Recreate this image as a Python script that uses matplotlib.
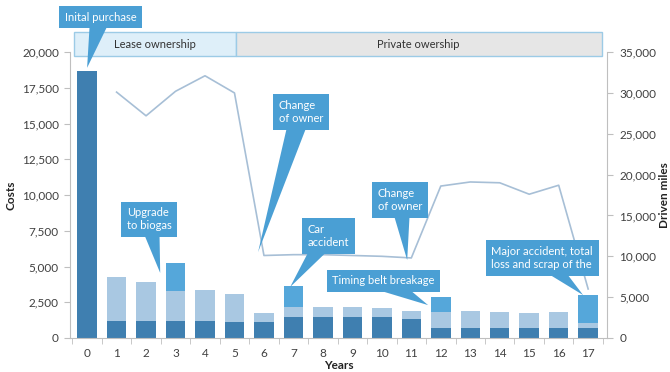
import matplotlib
matplotlib.use('Agg')
import matplotlib.pyplot as plt
import matplotlib.patches as mpatches
import matplotlib.transforms as mtransforms
import numpy as np

plt.rcParams['font.family'] = ['Lato', 'DejaVu Sans']

years = list(range(18))
# stacked cost parts (costs axis)
base_costs  = [18650, 1200, 1200, 1200, 1200, 1100, 1100, 1500, 1500, 1500, 1450, 1300, 700, 700, 700, 700, 700, 700]
running     = [0, 3050, 2700, 2100, 2130, 2000, 650, 650, 650, 650, 650, 600, 1150, 1200, 1100, 1050, 1100, 350]
extra       = [0, 0, 0, 1930, 0, 0, 0, 1500, 0, 0, 0, 0, 1000, 0, 0, 0, 0, 1930]
# driven miles (right axis), no value in year 0
miles = [np.nan, 30100, 27200, 30200, 32100, 30000, 10100, 10200, 10200, 10100, 10000, 9800,
         18600, 19100, 19000, 17600, 18700, 6000]

dark = '#3f7fb0'
light = '#a9c8e2'
mid = '#55a7da'
call = '#4a9fd4'
grey_txt = '#404040'

fig = plt.figure(figsize=(6.7, 3.72), dpi=100)
ax = fig.add_axes([0.1045, 0.0914, 0.8015, 0.7686])

x = np.arange(len(years))
w = 0.66
ax.bar(x, base_costs, w, color=dark, zorder=2)
ax.bar(x, running, w, bottom=base_costs, color=light, zorder=2)
ax.bar(x, extra, w, bottom=np.array(base_costs) + np.array(running), color=mid, zorder=2)

ax.set_xlim(-0.58, 17.64)
ax.set_ylim(0, 20000)
ax.set_yticks(np.arange(0, 20001, 2500))
ax.set_yticklabels(['{:,}'.format(v) for v in range(0, 20001, 2500)])
ax.set_xticks(x)
ax.set_xticklabels([str(y) for y in years])
ax.set_xticks(np.arange(-0.5, 18, 1), minor=True)
ax.tick_params(axis='x', which='major', length=0, pad=7, labelsize=8.5, labelcolor=grey_txt)
ax.tick_params(axis='x', which='minor', length=4, color='#bfbfbf')
ax.tick_params(axis='y', length=4, color='#bfbfbf', labelsize=8.5, labelcolor=grey_txt, pad=4)
for s in ['top', 'right']:
    ax.spines[s].set_visible(False)
for s in ['left', 'bottom']:
    ax.spines[s].set_color('#bfbfbf')
ax.set_ylabel('Costs', fontsize=8.5, fontweight='bold', color='#222222', labelpad=4)
ax.set_xlabel('Years', fontsize=8.5, fontweight='bold', color='#222222', labelpad=1)

ax2 = ax.twinx()
ax2.plot(x, miles, color='#a7bfd6', lw=1.2, zorder=3)
ax2.set_ylim(0, 35000)
ax2.set_yticks(np.arange(0, 35001, 5000))
ax2.set_yticklabels(['{:,}'.format(v) for v in range(0, 35001, 5000)])
ax2.tick_params(axis='y', length=4, color='#bfbfbf', labelsize=8.5, labelcolor=grey_txt, pad=5)
for s in ['top', 'left', 'bottom']:
    ax2.spines[s].set_visible(False)
ax2.spines['right'].set_color('#bfbfbf')
ax2.set_ylabel('Driven miles', fontsize=8.5, fontweight='bold', color='#222222')
ax2.yaxis.set_label_coords(1.097, 0.5)

# ownership bands above the plot
tr = mtransforms.blended_transform_factory(ax.transData, ax.transAxes)
ax2.add_patch(mpatches.Rectangle((-0.44, 0.985), 5.5, 0.085, transform=tr, clip_on=False,
                                 fc='#deeff9', ec='#9ccbe6', lw=1, zorder=4))
ax2.add_patch(mpatches.Rectangle((5.06, 0.985), 12.4, 0.085, transform=tr, clip_on=False,
                                 fc='#e6e6e6', ec='#9ccbe6', lw=1, zorder=4))
ax2.text(2.3, 1.027, 'Lease ownership', transform=tr, ha='center', va='center',
         fontsize=8, color='#333333', zorder=5)
ax2.text(11.25, 1.027, 'Private owership', transform=tr, ha='center', va='center',
         fontsize=8, color='#333333', zorder=5)

# callouts: (text, tip, box centre) in costs-axis coordinates
callouts = [
    ('Inital purchase', (0.0, 18900), (0.45, 22450)),
    ('Change\nof owner', (5.8, 6000), (7.26, 15800)),
    ('Upgrade\nto biogas', (2.48, 4550), (2.1, 8300)),
    ('Car\naccident', (6.89, 3570), (8.18, 7130)),
    ('Timing belt breakage', (11.57, 2300), (10.05, 3990)),
    ('Change\nof owner', (10.86, 5450), (10.62, 9650)),
    ('Major accident, total\nloss and scrap of the', (16.83, 3000), (15.44, 5590)),
]
for txt, tip, pos in callouts:
    ax2.annotate(txt, xy=tip, xycoords=ax.transData, xytext=pos, textcoords=ax.transData,
                 ha='center', va='center', multialignment='left', fontsize=8, color='white',
                 linespacing=1.25,
                 bbox=dict(boxstyle='square,pad=0.5', fc=call, ec='none'),
                 arrowprops=dict(arrowstyle='wedge,tail_width=1.5', fc=call, ec='none',
                                 patchA=None, shrinkA=0, shrinkB=0, mutation_scale=10),
                 annotation_clip=False, zorder=6)

fig.savefig('out.png', dpi=100)
